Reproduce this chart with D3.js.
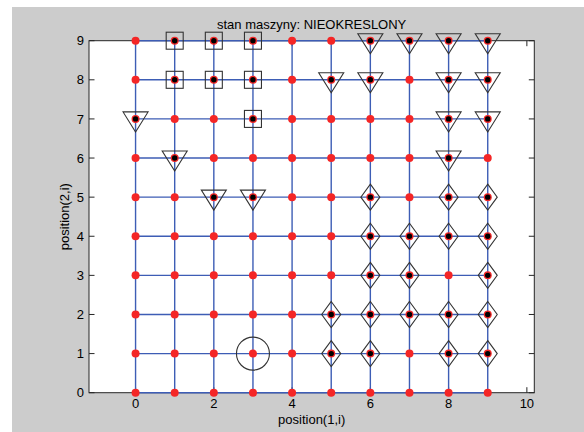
<!DOCTYPE html>
<html>
<head>
<meta charset="utf-8">
<script src="https://cdn.jsdelivr.net/npm/d3@7"></script>
<style>
  html, body { margin: 0; padding: 0; background: #ffffff; }
  svg { display: block; }
  text { font-family: "Liberation Sans", Arial, Helvetica, sans-serif; font-size: 13px; fill: #000; }
</style>
</head>
<body>
<svg id="fig" width="584" height="432"></svg>
<script>
// Grid of positions 0..9 in both directions
const gridX = d3.range(0, 10);
const gridY = d3.range(0, 10);

// Machine cells grouped by marker type: [x, y]
const squareCells = [[1,9],[2,9],[3,9],[1,8],[2,8],[3,8],[3,7]];
const triangleCells = [
  [0,7],[1,6],[2,5],[3,5],
  [6,9],[7,9],[8,9],[9,9],
  [5,8],[6,8],[8,8],[9,8],
  [8,7],[9,7],[8,6]
];
const diamondCells = [
  [6,5],[8,5],[9,5],
  [6,4],[7,4],[8,4],[9,4],
  [6,3],[7,3],[9,3],
  [5,2],[6,2],[7,2],[8,2],[9,2],
  [5,1],[6,1],[8,1],[9,1]
];
const circleCells = [[3,1]];

const xTicks = [0, 2, 4, 6, 8, 10];
const yTicks = [0, 1, 2, 3, 4, 5, 6, 7, 8, 9];
const xDomain = [-1.19, 10.19];
const yDomain = [0, 9];

const titleText = "stan maszyny: NIEOKRESLONY";
const xLabel = "position(1,i)";
const yLabel = "position(2,i)";

const svg = d3.select("#fig");

// figure background
svg.append("rect").attr("x", 12).attr("y", 7).attr("width", 572).attr("height", 425).attr("fill", "#cccccc");

const axL = 89, axR = 534.3, axT = 40.7, axB = 392.7;
const x = d3.scaleLinear().domain(xDomain).range([axL, axR]);
const y = d3.scaleLinear().domain(yDomain).range([axB, axT]);

// axes background
svg.append("rect").attr("x", axL).attr("y", axT).attr("width", axR - axL).attr("height", axB - axT).attr("fill", "#ffffff");

// axes box with inward ticks
const tickLen = 5.5;
const box = svg.append("g").attr("stroke", "#262626").attr("stroke-width", 1).attr("fill", "none");
box.append("rect").attr("x", axL).attr("y", axT).attr("width", axR - axL).attr("height", axB - axT);
xTicks.forEach(t => {
  box.append("line").attr("x1", x(t)).attr("x2", x(t)).attr("y1", axB).attr("y2", axB - tickLen);
  box.append("line").attr("x1", x(t)).attr("x2", x(t)).attr("y1", axT).attr("y2", axT + tickLen);
});
yTicks.forEach(t => {
  box.append("line").attr("x1", axL).attr("x2", axL + tickLen).attr("y1", y(t)).attr("y2", y(t));
  box.append("line").attr("x1", axR).attr("x2", axR - tickLen).attr("y1", y(t)).attr("y2", y(t));
});

// connecting grid lines (drawn over the box edges they share)
const lines = svg.append("g").attr("stroke", "#3d5db5").attr("stroke-width", 1.4).attr("fill", "none");
gridY.forEach(v => {
  lines.append("line").attr("x1", x(gridX[0])).attr("x2", x(gridX[gridX.length - 1])).attr("y1", y(v)).attr("y2", y(v));
});
gridX.forEach(v => {
  lines.append("line").attr("x1", x(v)).attr("x2", x(v)).attr("y1", y(gridY[0])).attr("y2", y(gridY[gridY.length - 1]));
});

// tick labels
svg.append("g").selectAll("text").data(xTicks).join("text")
  .attr("x", d => x(d)).attr("y", axB + 15)
  .attr("text-anchor", "middle").text(d => d);
svg.append("g").selectAll("text").data(yTicks).join("text")
  .attr("x", axL - 5).attr("y", d => y(d)).attr("dy", "0.36em")
  .attr("text-anchor", "end").text(d => d);

// red points at every grid position
const pts = [];
gridX.forEach(a => gridY.forEach(b => pts.push([a, b])));
svg.append("g").selectAll("circle").data(pts).join("circle")
  .attr("cx", d => x(d[0])).attr("cy", d => y(d[1])).attr("r", 4).attr("fill", "#f42626");

// hollow state markers
const mk = svg.append("g").attr("fill", "none").attr("stroke", "#333333").attr("stroke-width", 1.1);
mk.selectAll(".sq").data(squareCells).join("rect").attr("class", "sq")
  .attr("x", d => x(d[0]) - 8.5).attr("y", d => y(d[1]) - 8.5).attr("width", 17).attr("height", 17);
mk.selectAll(".tri").data(triangleCells).join("path").attr("class", "tri")
  .attr("d", d => {
    const cx = x(d[0]), cy = y(d[1]);
    return `M${cx - 12.5},${cy - 7}L${cx + 12.5},${cy - 7}L${cx},${cy + 13}Z`;
  });
mk.selectAll(".dia").data(diamondCells).join("path").attr("class", "dia")
  .attr("d", d => {
    const cx = x(d[0]), cy = y(d[1]);
    return `M${cx},${cy - 13}L${cx + 9.5},${cy}L${cx},${cy + 13}L${cx - 9.5},${cy}Z`;
  });
mk.selectAll(".cir").data(circleCells).join("circle").attr("class", "cir")
  .attr("cx", d => x(d[0])).attr("cy", d => y(d[1])).attr("r", 16.5);

// black centre dots for occupied cells (not the circle)
const occupied = squareCells.concat(triangleCells, diamondCells);
svg.append("g").selectAll("circle").data(occupied).join("circle")
  .attr("cx", d => x(d[0])).attr("cy", d => y(d[1])).attr("r", 2.7).attr("fill", "#000");

// title and axis labels
svg.append("text").attr("x", (axL + axR) / 2).attr("y", 29).attr("text-anchor", "middle").text(titleText);
svg.append("text").attr("x", (axL + axR) / 2).attr("y", 424).attr("text-anchor", "middle").text(xLabel);
svg.append("text").attr("transform", `translate(69,${(axT + axB) / 2}) rotate(-90)`).attr("text-anchor", "middle").text(yLabel);
</script>
</body>
</html>
